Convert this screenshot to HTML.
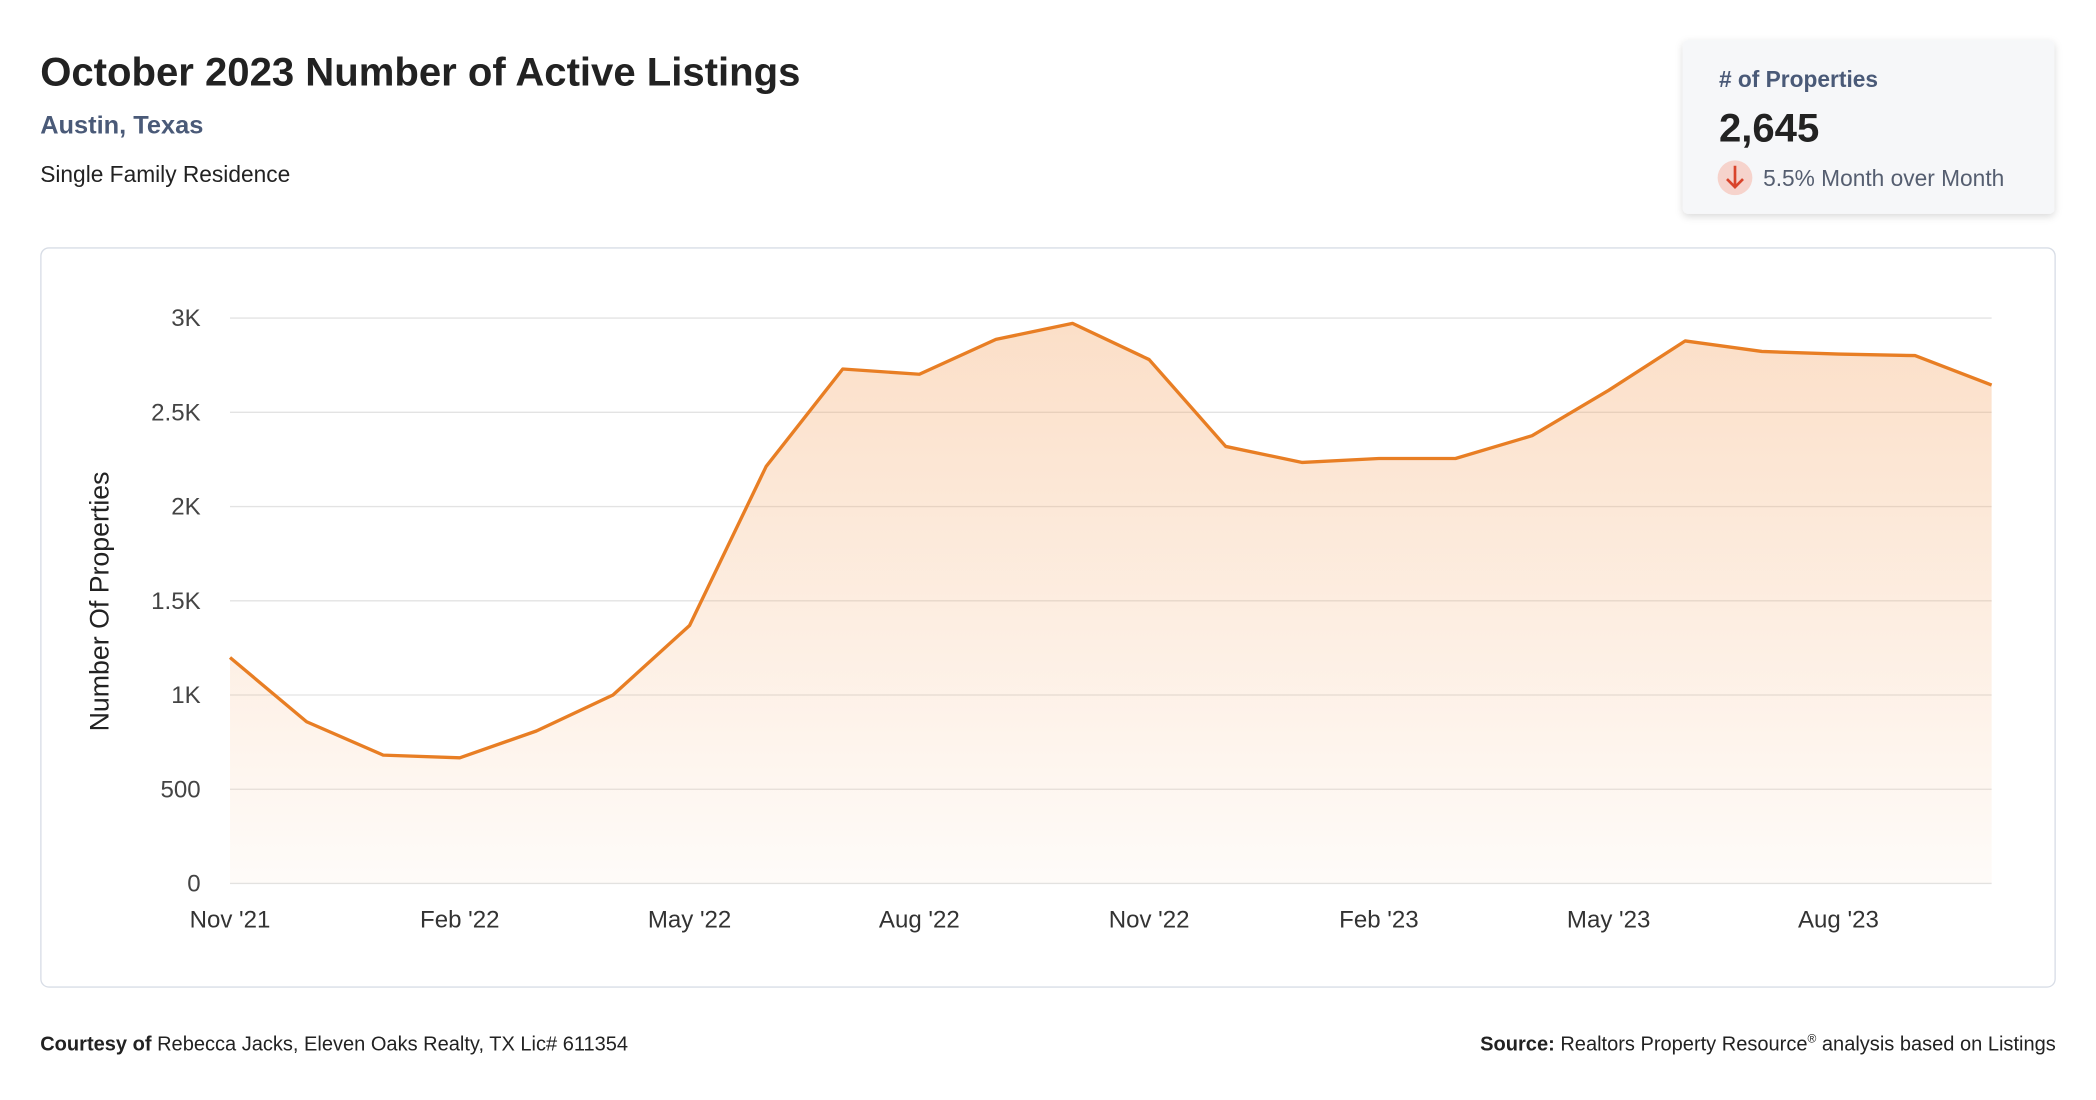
<!DOCTYPE html>
<html><head><meta charset="utf-8"><style>
html,body{margin:0;padding:0;background:#fff;}
svg{display:block;font-family:"Liberation Sans",Arial,sans-serif;}
</style></head><body>
<svg id="s" width="2096" height="1100" viewBox="0 0 1568 823">
<defs>
<linearGradient id="g" x1="0" y1="0" x2="0" y2="1">
<stop offset="0" stop-color="#f4a361" stop-opacity="0.35"/>
<stop offset="1" stop-color="#f4a361" stop-opacity="0.04"/>
</linearGradient>
<filter id="sh" x="-10%" y="-10%" width="120%" height="130%"><feDropShadow dx="0" dy="2" stdDeviation="3" flood-opacity="0.15"/></filter>
</defs>
<text x="30" y="64" font-size="30" font-weight="bold" fill="#222">October 2023 Number of Active Listings</text>
<text x="30" y="100" font-size="19" font-weight="bold" fill="#4a5a78">Austin, Texas</text>
<text x="30" y="136" font-size="17" fill="#222">Single Family Residence</text>
<g>
<rect x="1259" y="30" width="278" height="130" rx="4" fill="#f6f7f9" filter="url(#sh)"/>
<text x="1286" y="65" font-size="17" font-weight="bold" fill="#4a5a78">#  of Properties</text>
<text x="1286" y="106" font-size="30" font-weight="bold" fill="#222">2,645</text>
<circle cx="1298" cy="133" r="13" fill="#f6d3cc"/>
<path d="M1298 124v16M1292 134l6 6 6-6" stroke="#d9442b" stroke-width="2" fill="none"/>
<text x="1319" y="139" font-size="17" fill="#555e70">5.5% Month over Month</text>
</g>
<rect x="30.5" y="185.5" width="1507" height="553" rx="6" fill="#fff" stroke="#d8dde6"/>
<g id="grid"></g><g id="plot"></g>
<text transform="translate(81,450) rotate(-90)" text-anchor="middle" font-size="20" fill="#222">Number Of Properties</text>
<text x="30" y="786" font-size="15" fill="#222"><tspan font-weight="bold">Courtesy of</tspan> Rebecca Jacks, Eleven Oaks Realty, TX Lic# 611354</text>
<text x="1538" y="786" text-anchor="end" font-size="15" fill="#222"><tspan font-weight="bold">Source:</tspan> Realtors Property Resource<tspan font-size="9" dy="-6">®</tspan><tspan dy="6"> analysis based on Listings</tspan></text>
</svg>
<script>
const months=["Nov '21","Dec '21","Jan '22","Feb '22","Mar '22","Apr '22","May '22","Jun '22","Jul '22","Aug '22","Sep '22","Oct '22","Nov '22","Dec '22","Jan '23","Feb '23","Mar '23","Apr '23","May '23","Jun '23","Jul '23","Aug '23","Sep '23","Oct '23"];
const listings=[1199,858,681,667,809,1000,1369,2213,2730,2702,2887,2972,2780,2319,2234,2255,2255,2376,2617,2879,2823,2809,2801,2645];
const yTicks=[0,500,1000,1500,2000,2500,3000];
const yTickLabels=["0","500","1K","1.5K","2K","2.5K","3K"];
const xTickIdx=[0,3,6,9,12,15,18,21];
const NS="http://www.w3.org/2000/svg";
const x0=172,x1=1490,y0=661,y3=238;
function xs(i){return x0+(x1-x0)*i/(months.length-1);}
function ys(v){return y0-(y0-y3)*v/3000;}
function mk(t,a,p){const e=document.createElementNS(NS,t);for(const k in a)e.setAttribute(k,a[k]);p.appendChild(e);return e;}
const grid=document.getElementById('grid'),plot=document.getElementById('plot');
yTicks.forEach((v,i)=>{
 const l=mk('line',{x1:x0,x2:x1,y1:ys(v),y2:ys(v),stroke:'#e3e3e3','stroke-width':1},grid);
 
 
 const t=mk('text',{x:150,y:ys(v)+6,'text-anchor':'end','font-size':18,fill:'#444'},grid);
 t.textContent=yTickLabels[i];
 
 
});
xTickIdx.forEach(i=>{
 const t=mk('text',{x:xs(i),y:694,'text-anchor':'middle','font-size':18,fill:'#333'},grid);
 t.textContent=months[i].replace(/ '(\d+)/," '$1").split(" '").map((s,j)=>j?"'"+s:s).join(" ").replace(/ '/," '");
 t.textContent=months[i];
 
 
});
let d=listings.map((v,i)=>(i?'L':'M')+xs(i)+' '+ys(v)).join(' ');
const a=mk('path',{d:d+` L${xs(listings.length-1)} ${y0} L${x0} ${y0} Z`,fill:'url(#g)'},plot);


const ln=mk('path',{d:d,fill:'none',stroke:'#e87e24','stroke-width':2.5,'stroke-linejoin':'round'},plot);


</script>
</body></html>
